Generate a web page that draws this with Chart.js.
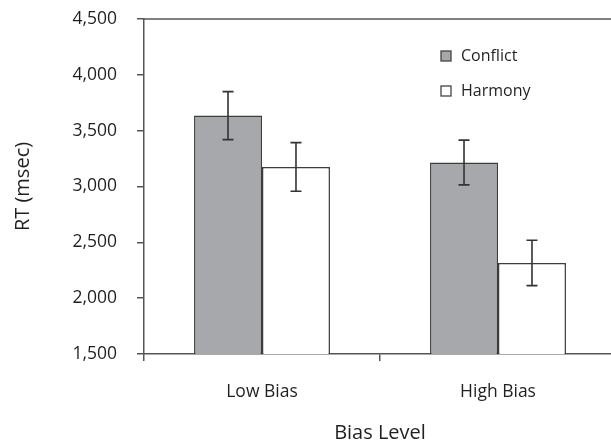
<!DOCTYPE html>
<html>
<head>
<meta charset="utf-8">
<script src="https://cdn.jsdelivr.net/npm/chart.js@4/dist/chart.umd.min.js"></script>
<style>
  html, body { margin: 0; padding: 0; background: #fff; overflow: hidden; }
  #wrap { width: 640px; height: 445px; }
</style>
</head>
<body>
<div id="wrap"><canvas id="chart" width="640" height="445"></canvas></div>
<script>
var categories = ["Low Bias", "High Bias"];
var seriesNames = ["Conflict", "Harmony"];
var conflictRT = [3635, 3215];
var harmonyRT = [3175, 2315];
var conflictErr = [215, 200];
var harmonyErr = [218, 203];
var yTicks = [1500, 2000, 2500, 3000, 3500, 4000, 4500];

var fontFamily = "'Open Sans', 'DejaVu Sans', sans-serif";
var textColor = "#231f20";
var axisColor = "#555";

// error bars, drawn from each bar's value and the y scale
var errorBars = {
  id: "errorBars",
  afterDatasetsDraw: function (chart) {
    var ctx = chart.ctx;
    var yScale = chart.scales.y;
    ctx.save();
    ctx.strokeStyle = "#333";
    ctx.lineWidth = 1.6;
    chart.data.datasets.forEach(function (ds, i) {
      var meta = chart.getDatasetMeta(i);
      meta.data.forEach(function (bar, j) {
        var v = ds.data[j];
        var e = ds.errors[j];
        var top = yScale.getPixelForValue(v + e);
        var bottom = yScale.getPixelForValue(v - e);
        ctx.beginPath();
        ctx.moveTo(bar.x, top);
        ctx.lineTo(bar.x, bottom);
        ctx.moveTo(bar.x - 5.5, top);
        ctx.lineTo(bar.x + 5.5, top);
        ctx.moveTo(bar.x - 5.5, bottom);
        ctx.lineTo(bar.x + 5.5, bottom);
        ctx.stroke();
      });
    });
    ctx.restore();
  }
};

// top border of the plot box and the legend inside the plot
var frameAndLegend = {
  id: "frameAndLegend",
  afterDraw: function (chart) {
    var ctx = chart.ctx;
    var area = chart.chartArea;
    ctx.save();
    ctx.strokeStyle = axisColor;
    ctx.lineWidth = 1.5;
    ctx.beginPath();
    ctx.moveTo(area.left, area.top);
    ctx.lineTo(area.right + 10, area.top);
    ctx.stroke();

    ctx.font = "16px " + fontFamily;
    ctx.textBaseline = "middle";
    ctx.textAlign = "left";
    chart.data.datasets.forEach(function (ds, i) {
      var sx = 441;
      var sy = 51 + i * 35;
      ctx.fillStyle = ds.backgroundColor;
      ctx.fillRect(sx, sy, 10, 10);
      ctx.strokeStyle = "#444";
      ctx.lineWidth = 1.3;
      ctx.strokeRect(sx, sy, 10, 10);
      ctx.fillStyle = textColor;
      ctx.fillText(ds.label, 461, sy + 5);
    });
    ctx.restore();
  }
};

var ctx = document.getElementById("chart").getContext("2d");
new Chart(ctx, {
  type: "bar",
  data: {
    labels: categories,
    datasets: [
      {
        label: seriesNames[0],
        data: conflictRT,
        errors: conflictErr,
        backgroundColor: "#a7a8ac",
        borderColor: "#3c3c3c",
        borderWidth: 1.5,
        categoryPercentage: 0.576,
        barPercentage: 1.0
      },
      {
        label: seriesNames[1],
        data: harmonyRT,
        errors: harmonyErr,
        backgroundColor: "#ffffff",
        borderColor: "#3c3c3c",
        borderWidth: 1.5,
        categoryPercentage: 0.576,
        barPercentage: 1.0
      }
    ]
  },
  options: {
    responsive: false,
    animation: false,
    layout: { padding: { top: 19, right: 24, bottom: 0, left: 0 } },
    plugins: {
      legend: { display: false },
      tooltip: { enabled: false }
    },
    scales: {
      x: {
        grid: {
          offset: true,
          drawOnChartArea: false,
          tickLength: 7,
          color: axisColor,
          lineWidth: 1.5
        },
        border: { color: axisColor, width: 1.5 },
        ticks: {
          color: textColor,
          font: { family: fontFamily, size: 17.5 },
          padding: 21
        },
        title: {
          display: true,
          text: "Bias Level",
          color: textColor,
          font: { family: fontFamily, size: 20 },
          padding: { top: 0, bottom: 0 }
        },
        afterFit: function (scale) {
          scale.height = 91;
          scale.paddingLeft = 0;
          scale.paddingRight = 0;
        }
      },
      y: {
        min: 1500,
        max: 4500,
        afterBuildTicks: function (scale) {
          scale.ticks = yTicks.map(function (v) { return { value: v }; });
        },
        grid: {
          drawOnChartArea: false,
          tickLength: 7,
          color: axisColor,
          lineWidth: 1.5
        },
        border: { color: axisColor, width: 1.5 },
        ticks: {
          color: textColor,
          font: { family: fontFamily, size: 17.5 },
          padding: 20,
          callback: function (v) { return v.toLocaleString("en-US"); }
        },
        title: {
          display: true,
          text: "RT (msec)",
          color: textColor,
          font: { family: fontFamily, size: 20 },
          padding: { top: 11, bottom: 0 }
        },
        afterFit: function (scale) {
          scale.width = 144;
          scale.paddingTop = 0;
          scale.paddingBottom = 0;
        }
      }
    }
  },
  plugins: [errorBars, frameAndLegend]
});
</script>
</body>
</html>
